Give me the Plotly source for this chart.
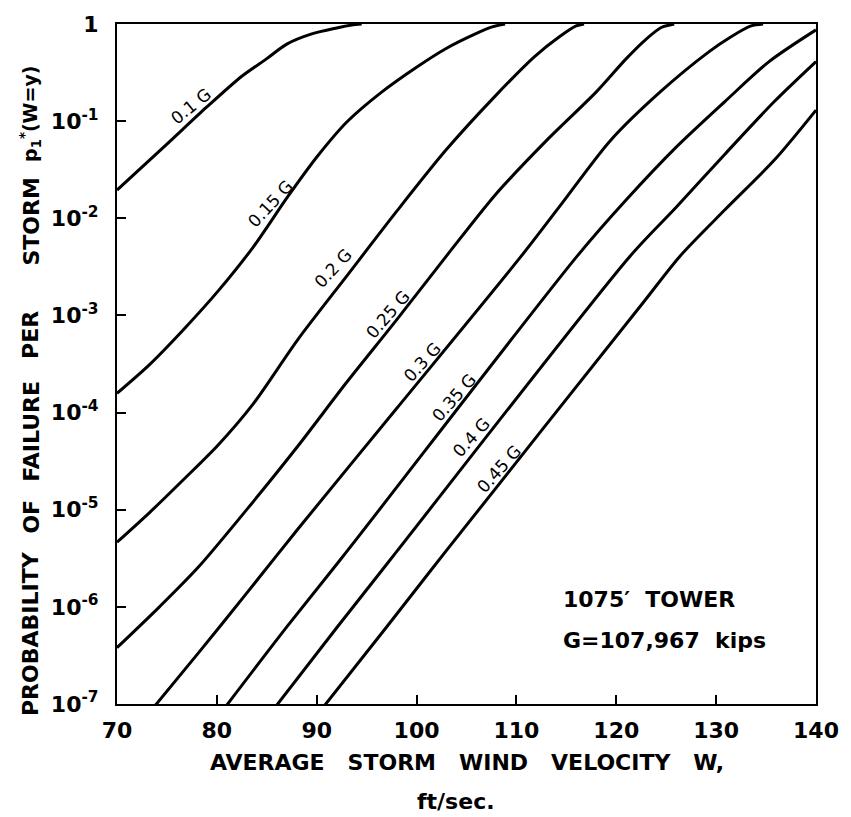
import plotly.graph_objects as go

# Average storm wind velocity W (ft/sec) and failure probability per storm,
# one pair of lists for each tower capacity level (fraction of G).
W_010 = [70, 75, 79, 82.5, 85, 87, 89.5, 92, 93.5, 94.5]
P_010 = [1.95e-2, 5.8e-2, 0.14, 0.29, 0.44, 0.62, 0.79, 0.91, 0.975, 1.0]

W_015 = [70, 73.26, 76.72, 80.18, 83.64, 87.1, 90.07, 93.04, 96.5, 99.96,
         102.92, 105.89, 107.57, 108.86]
P_015 = [1.58e-4, 3.12e-4, 7.26e-4, 1.81e-3, 5.06e-3, 1.67e-2, 4.35e-2, 9.86e-2,
         0.199, 0.357, 0.557, 0.791, 0.933, 1.0]

W_020 = [70, 73.26, 76.72, 80.18, 83.64, 88.09, 93.04, 97.98, 102.92, 107.87,
         111.82, 114.3, 115.98, 116.77]
P_020 = [4.63e-6, 9.35e-6, 2.07e-5, 4.7e-5, 1.23e-4, 5.61e-4, 2.57e-3, 1.17e-2,
         5.01e-2, 0.181, 0.462, 0.738, 0.955, 1.0]

W_025 = [70, 74.25, 78.2, 83.15, 88.1, 93, 98, 103, 108, 113, 118, 121, 123, 124.5, 125.8]
P_025 = [3.8e-7, 1.0e-6, 2.6e-6, 1.05e-5, 4.5e-5, 2.05e-4, 9.0e-4, 4.1e-3,
         1.8e-2, 6.3e-2, 0.20, 0.44, 0.70, 0.92, 1.0]

W_030 = [73.3, 78.2, 83.15, 88.1, 98, 110.5, 114.5, 119.4, 124.4, 129.3, 131.5, 133.5, 134.7]
P_030 = [8.3e-8, 3.4e-7, 1.45e-6, 6.3e-6, 1.1e-4, 4.1e-3, 1.4e-2, 6.3e-2,
         0.20, 0.52, 0.74, 0.955, 1.0]

W_035 = [80.4, 87.1, 93, 116.1, 121, 126, 130.9, 135.3, 140]
P_035 = [8.1e-8, 6.4e-7, 3.7e-6, 4.1e-3, 1.55e-2, 5.4e-2, 0.16, 0.41, 0.87]

W_040 = [85.4, 92, 98, 121.4, 126, 130.9, 135.85, 140]
P_040 = [8.1e-8, 6.1e-7, 3.7e-6, 4.1e-3, 1.3e-2, 4.6e-2, 0.16, 0.41]

W_045 = [90.2, 97, 102.9, 122.7, 126.4, 130.9, 135.85, 140]
P_045 = [8.1e-8, 6.2e-7, 3.7e-6, 1.36e-3, 4.1e-3, 1.23e-2, 4.0e-2, 0.13]

CURVE_NAMES = ["0.1 G", "0.15 G", "0.2 G", "0.25 G", "0.3 G", "0.35 G", "0.4 G", "0.45 G"]
CURVES = [(W_010, P_010), (W_015, P_015), (W_020, P_020), (W_025, P_025),
          (W_030, P_030), (W_035, P_035), (W_040, P_040), (W_045, P_045)]

X_TICKS = [70, 80, 90, 100, 110, 120, 130, 140]
Y_TICKS = [1e-7, 1e-6, 1e-5, 1e-4, 1e-3, 1e-2, 1e-1, 1]
Y_TICK_TEXT = ["10<sup>-7</sup>", "10<sup>-6</sup>", "10<sup>-5</sup>", "10<sup>-4</sup>",
               "10<sup>-3</sup>", "10<sup>-2</sup>", "10<sup>-1</sup>", "1"]

FONT = "DejaVu Sans"
INK = "black"

# plot-area edges in pixels
L, R, T, B = 117, 825, 15, 704
W_PX, H_PX = 851, 817


def px(x):
    return (x - L) / (R - L)


def py(y):
    return (B - y) / (B - T)


fig = go.Figure()
for name, (w, p) in zip(CURVE_NAMES, CURVES):
    fig.add_trace(go.Scatter(
        x=w, y=p, mode="lines", name=name,
        line=dict(color=INK, width=3, shape="spline", smoothing=0.8),
        showlegend=False, hoverinfo="skip",
    ))

annotations = []

# curve labels, written along each line
label_places = [(192, 98, -39), (272, 197, -47), (336, 262, -47), (391, 310, -49),
                (426, 357, -48), (458, 394, -49), (476, 433, -48), (504, 466, -48)]
for name, (lx, ly, ang) in zip(CURVE_NAMES, label_places):
    annotations.append(dict(
        text=name, x=px(lx), y=py(ly), xref="paper", yref="paper",
        textangle=ang, showarrow=False, xanchor="center", yanchor="middle",
        font=dict(family=FONT, size=17, color=INK),
    ))

# tower note
note_font = dict(family=FONT, size=22, color=INK, weight="bold")
annotations.append(dict(
    text="1075\u2032\u00a0 TOWER", x=px(567), y=py(598), xref="paper", yref="paper",
    showarrow=False, xanchor="left", yanchor="middle", font=note_font,
))
annotations.append(dict(
    text="G=107,967\u00a0 kips", x=px(567), y=py(640), xref="paper", yref="paper",
    showarrow=False, xanchor="left", yanchor="middle", font=note_font,
))

# x-axis title
annotations.append(dict(
    text="AVERAGE\u00a0\u00a0\u00a0STORM\u00a0\u00a0\u00a0WIND\u00a0\u00a0\u00a0VELOCITY\u00a0\u00a0\u00a0W,",
    x=px(471), y=py(763), xref="paper", yref="paper",
    showarrow=False, xanchor="center", yanchor="middle", font=note_font,
))
annotations.append(dict(
    text="ft/sec.", x=px(460), y=py(803), xref="paper", yref="paper",
    showarrow=False, xanchor="center", yanchor="middle", font=note_font,
))

# y-axis title, word by word
y_title_words = [("PROBABILITY", 633, 22), ("OF", 514, 22), ("FAILURE", 428, 22),
                 ("PER", 330, 22), ("STORM", 215, 22),
                 ("p<sub>1</sub><sup>*</sup>(W=y)", 106, 19)]
for word, cy, size in y_title_words:
    annotations.append(dict(
        text=word, x=px(30), y=py(cy), xref="paper", yref="paper",
        textangle=-90, showarrow=False, xanchor="center", yanchor="middle",
        font=dict(family=FONT, size=size, color=INK, weight="bold"),
    ))

fig.update_layout(
    width=W_PX, height=H_PX,
    margin=dict(l=L, r=W_PX - R, t=T, b=H_PX - B, pad=0),
    paper_bgcolor="white", plot_bgcolor="white",
    font=dict(family=FONT, color=INK),
    annotations=annotations,
    xaxis=dict(
        range=[70, 140], tickvals=X_TICKS, ticks="inside", ticklen=9,
        tickwidth=1.5, tickcolor=INK, showline=True, linecolor=INK, linewidth=2,
        mirror=True, showgrid=False, zeroline=False, ticklabelstandoff=6,
        tickfont=dict(family=FONT, size=22, color=INK, weight="bold"),
    ),
    yaxis=dict(
        type="log", range=[-7, 0], tickvals=Y_TICKS, ticktext=Y_TICK_TEXT,
        ticks="inside", ticklen=9, tickwidth=1.5, tickcolor=INK,
        showline=True, linecolor=INK, linewidth=2, mirror=True,
        showgrid=False, zeroline=False, ticklabelstandoff=12,
        tickfont=dict(family=FONT, size=22, color=INK, weight="bold"),
    ),
)

fig.write_html("out.html")
